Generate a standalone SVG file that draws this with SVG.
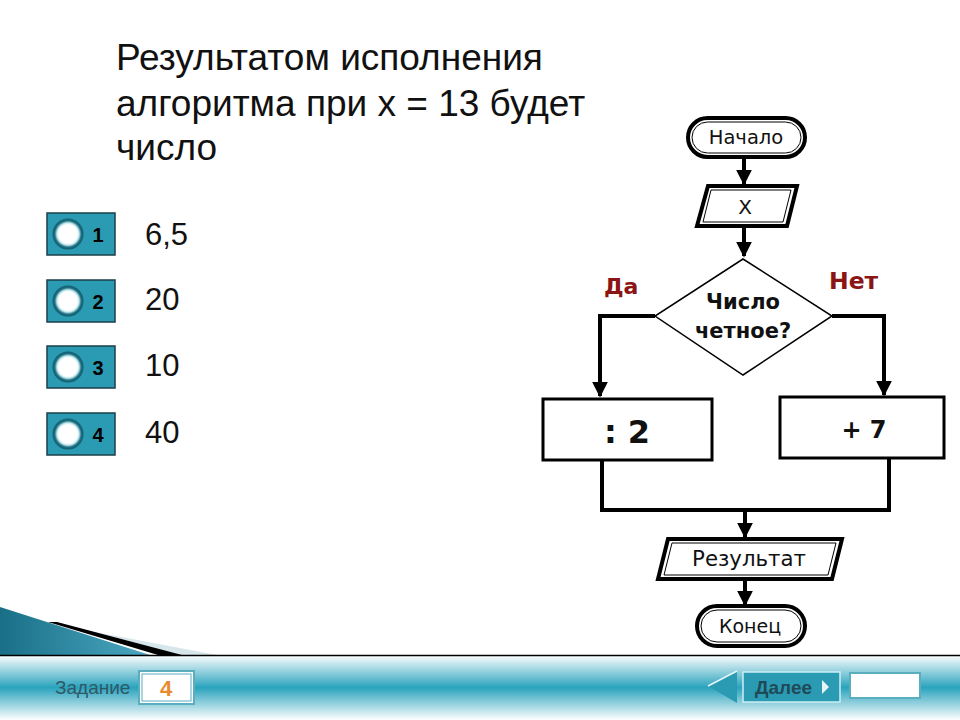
<svg xmlns="http://www.w3.org/2000/svg" width="960" height="720" viewBox="0 0 960 720">
<defs>
<style>
.t{font-family:"Liberation Sans",Arial,sans-serif;fill:#111}
.fc{font-family:"DejaVu Sans","Liberation Sans",sans-serif;fill:#111}
.fb{font-family:"DejaVu Sans","Liberation Sans",sans-serif;font-weight:bold;fill:#111}
.red{font-family:"DejaVu Sans",sans-serif;font-weight:bold;fill:#8b1414}
.num{font-family:"Liberation Sans",Arial,sans-serif;font-weight:bold;font-size:20px;fill:#000;text-anchor:middle}
.ln{fill:none;stroke:#000;stroke-width:4}
.box{fill:#fff;stroke:#000;stroke-width:3}
.btn{fill:#2a9bb3;stroke:#1b3f4a;stroke-width:1.5}
</style>
<marker id="ah" viewBox="0 0 10 10" refX="9" refY="5" markerWidth="4" markerHeight="4" orient="auto" markerUnits="strokeWidth">
<path d="M0,0 L10,5 L0,10 z" fill="#000"/>
</marker>
<linearGradient id="bar" x1="0" y1="0" x2="0" y2="1">
<stop offset="0" stop-color="#ffffff"/>
<stop offset="0.5" stop-color="#2aa3bd"/>
<stop offset="1" stop-color="#ffffff"/>
</linearGradient>
<linearGradient id="wedge" x1="0" y1="0" x2="1" y2="0">
<stop offset="0" stop-color="#1a6f88"/>
<stop offset="1" stop-color="#4aa8c0"/>
</linearGradient>
<radialGradient id="ring" cx="0.5" cy="0.5" r="0.5">
<stop offset="0.6" stop-color="#ffffff"/>
<stop offset="0.72" stop-color="#bfe4ea"/>
<stop offset="0.85" stop-color="#1c7386"/>
<stop offset="1" stop-color="#135a6a"/>
</radialGradient>
</defs>
<rect width="960" height="720" fill="#fff"/>

<g id="question">
<text class="t" x="116" y="70" font-size="37">Результатом исполнения</text>
<text class="t" x="116" y="116" font-size="37">алгоритма при x = 13 будет</text>
<text class="t" x="116" y="160" font-size="37">число</text>
</g>

<g id="answer1">
<rect class="btn" x="47" y="213" width="68" height="42"/>
<circle cx="68" cy="234" r="15.5" fill="url(#ring)"/>
<text class="num" x="98" y="242">1</text>
<text class="t" x="145" y="245" font-size="31">6,5</text>
</g>
<g id="answer2">
<rect class="btn" x="47" y="280" width="68" height="42"/>
<circle cx="68" cy="301" r="15.5" fill="url(#ring)"/>
<text class="num" x="98" y="309">2</text>
<text class="t" x="145" y="310" font-size="31">20</text>
</g>
<g id="answer3">
<rect class="btn" x="47" y="346" width="68" height="42"/>
<circle cx="68" cy="367" r="15.5" fill="url(#ring)"/>
<text class="num" x="98" y="375">3</text>
<text class="t" x="145" y="376" font-size="31">10</text>
</g>
<g id="answer4">
<rect class="btn" x="47" y="413" width="68" height="42"/>
<circle cx="68" cy="434" r="15.5" fill="url(#ring)"/>
<text class="num" x="98" y="442">4</text>
<text class="t" x="145" y="443" font-size="31">40</text>
</g>

<g id="connectors">
<line class="ln" x1="744" y1="158" x2="744" y2="184" marker-end="url(#ah)" stroke-width="3"/>
<line class="ln" x1="744" y1="227" x2="744" y2="256" marker-end="url(#ah)" stroke-width="3"/>
<polyline class="ln" points="655,316 600,316 600,396" marker-end="url(#ah)"/>
<polyline class="ln" points="832,316 884,316 884,395" marker-end="url(#ah)"/>
<polyline class="ln" points="602,461 602,510 889,510 889,459"/>
<line class="ln" x1="745" y1="510" x2="745" y2="537" marker-end="url(#ah)" stroke-width="3"/>
<line class="ln" x1="745" y1="580" x2="745" y2="605" marker-end="url(#ah)" stroke-width="3"/>
</g>

<g id="start">
<rect x="688" y="118" width="117" height="39" rx="19.5" fill="#fff" stroke="#000" stroke-width="4"/>
<rect x="692" y="122" width="109" height="31" rx="15.5" fill="none" stroke="#000" stroke-width="1"/>
<text class="fc" x="746" y="144" font-size="19.5" text-anchor="middle">Начало</text>
</g>

<g id="input">
<polygon points="708,186 797,186 787,226 697,226" fill="#fff" stroke="#000" stroke-width="4"/>
<polygon points="711,190 791,190 783,222 703,222" fill="none" stroke="#000" stroke-width="1"/>
<text class="fc" x="745" y="214" font-size="20" text-anchor="middle">X</text>
</g>

<g id="decision">
<polygon points="743,259 832,316 743,375 655,316" fill="#fff" stroke="#000" stroke-width="1.5"/>
<text class="fb" x="743" y="309" font-size="21" text-anchor="middle">Число</text>
<text class="fb" x="743" y="338" font-size="21" text-anchor="middle">четное?</text>
<text class="red" x="604" y="294" font-size="22">Да</text>
<text class="red" x="829" y="289" font-size="23.5">Нет</text>
</g>

<g id="div2">
<rect class="box" x="543" y="399" width="169" height="61"/>
<text class="fb" x="627" y="443" font-size="32" text-anchor="middle">: 2</text>
</g>

<g id="plus7">
<rect class="box" x="780" y="397" width="164" height="61"/>
<text class="fb" x="864" y="438" font-size="24" text-anchor="middle">+ 7</text>
</g>

<g id="output">
<polygon points="668,539 842,539 832,579 658,579" fill="#fff" stroke="#000" stroke-width="4"/>
<polygon points="672,543 836,543 828,575 664,575" fill="none" stroke="#000" stroke-width="1"/>
<text class="fc" x="749" y="566" font-size="21.3" text-anchor="middle">Результат</text>
</g>

<g id="end">
<rect x="697" y="606" width="108" height="40" rx="20" fill="#fff" stroke="#000" stroke-width="4"/>
<rect x="701" y="610" width="100" height="32" rx="16" fill="none" stroke="#000" stroke-width="1"/>
<text class="fc" x="750" y="633" font-size="19" text-anchor="middle">Конец</text>
</g>

<g id="footer">
<polygon points="100,633 217,655 180,655" fill="#d6e6ea"/>
<polygon points="0,607 150,655 0,655" fill="url(#wedge)"/>
<polygon points="57,622 182,655 158,655 48,622" fill="#000"/>
<rect x="0" y="655" width="960" height="65" fill="url(#bar)"/>
<line x1="0" y1="655.5" x2="960" y2="655.5" stroke="#000" stroke-width="1.5"/>
<text x="55" y="694" font-family="Liberation Sans,sans-serif" font-size="19" fill="#2f5866">Задание</text>
<rect x="139" y="671" width="55" height="33" fill="#fff" stroke="#5aaec0" stroke-width="2"/>
<rect x="142" y="674" width="49" height="27" fill="none" stroke="#5aaec0" stroke-width="1"/>
<text x="166" y="696" font-family="Liberation Sans,sans-serif" font-weight="bold" font-size="22" fill="#e88a2e" text-anchor="middle">4</text>
<polygon points="708,686 737,671 737,703" fill="#2a9bb3"/>
<line x1="708" y1="686" x2="737" y2="671" stroke="#e6f6f9" stroke-width="1.5"/>
<rect x="743" y="672" width="97" height="30" fill="#2a9bb3" stroke="#cdeef4" stroke-width="1.5"/>
<text x="755" y="694" font-family="Liberation Sans,sans-serif" font-weight="bold" font-size="19" fill="#1f4a57">Далее</text>
<polygon points="822,680 829,687 822,694" fill="#e6f5f8"/>
<rect x="850" y="673" width="70" height="25" fill="#fff" stroke="#5aaec0" stroke-width="2"/>
</g>
</svg>
